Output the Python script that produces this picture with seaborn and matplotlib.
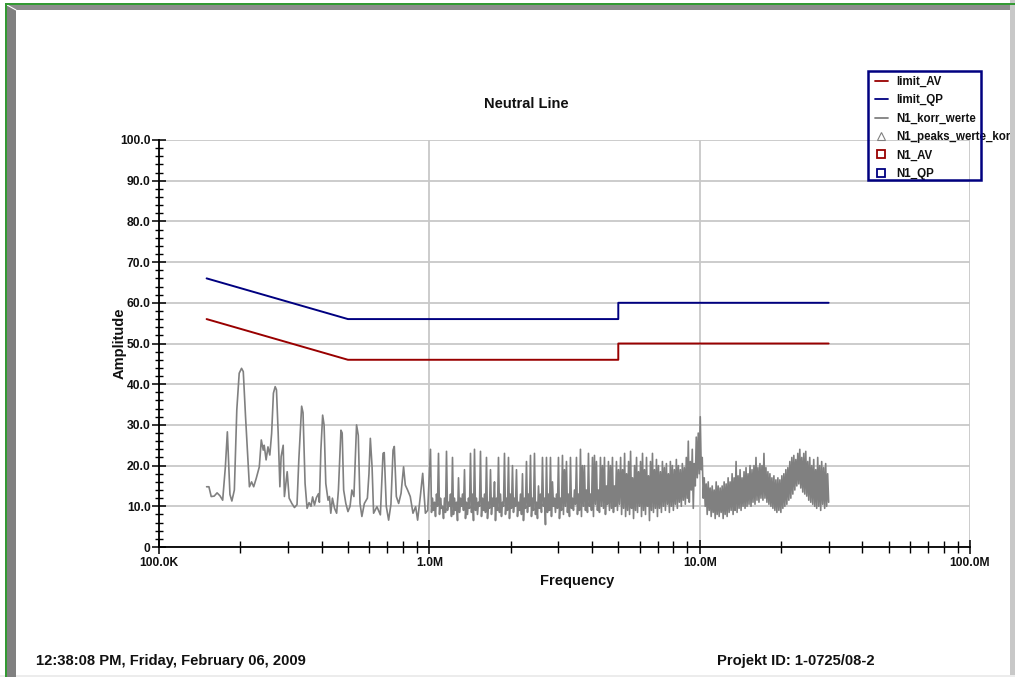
import numpy as np
import pandas as pd
import matplotlib
matplotlib.use("Agg")
import matplotlib.pyplot as plt
import seaborn as sns
from matplotlib.lines import Line2D
from matplotlib.patches import Rectangle, Polygon
from matplotlib.ticker import FixedLocator, FixedFormatter, LogLocator, MultipleLocator, NullFormatter

# ---------------- data ----------------
# limit lines (MHz, dBuV)
limit_freq_mhz = [0.15, 0.5, 5.0, 5.0, 30.0]
limit_qp = [66, 56, 56, 60, 60]
limit_av = [56, 46, 46, 50, 50]

# measured trace, low-frequency part (read point by point)
sparse_freq_mhz = [0.150, 0.153, 0.156, 0.160, 0.164, 0.168, 0.172, 0.176, 0.179, 0.183,
                   0.186, 0.190, 0.194, 0.198, 0.202, 0.205, 0.209, 0.216, 0.220, 0.224,
                   0.229, 0.235, 0.239, 0.243, 0.245, 0.249, 0.253, 0.257, 0.261, 0.265,
                   0.269, 0.272, 0.276, 0.280, 0.283, 0.288, 0.291, 0.298, 0.303, 0.310,
                   0.317, 0.324, 0.329, 0.337, 0.341, 0.347, 0.353, 0.359, 0.365, 0.370,
                   0.376, 0.382, 0.389, 0.392, 0.397, 0.403, 0.408, 0.414, 0.422, 0.427,
                   0.432, 0.438, 0.446, 0.454, 0.461, 0.471, 0.476, 0.482, 0.491, 0.500,
                   0.509, 0.517, 0.526, 0.538, 0.546, 0.554, 0.563, 0.575, 0.590, 0.598,
                   0.605, 0.614, 0.622, 0.640, 0.659, 0.674, 0.681, 0.693, 0.707, 0.721,
                   0.734, 0.742, 0.755, 0.770, 0.786, 0.803, 0.815, 0.831, 0.850, 0.870,
                   0.890, 0.905, 0.926, 0.945, 0.967, 0.986]
sparse_level = [14.8, 14.8, 12.4, 12.5, 13.3, 12.6, 11.5, 19.7, 28.3, 12.9,
                11.3, 14.0, 33.7, 42.7, 43.9, 43.1, 32.0, 14.8, 16.0, 14.8,
                16.9, 19.7, 26.3, 23.8, 25.0, 21.4, 24.6, 22.6, 27.9, 37.8,
                39.4, 38.6, 27.9, 14.8, 22.2, 25.0, 12.4, 18.5, 12.0, 10.7,
                9.7, 10.4, 21.4, 34.6, 33.0, 15.6, 9.5, 10.9, 10.0, 12.3,
                10.3, 12.1, 13.1, 11.0, 23.8, 32.4, 30.0, 15.6, 11.5, 12.4,
                8.3, 12.0, 9.5, 8.3, 14.0, 28.7, 28.0, 14.0, 10.7, 8.7,
                10.0, 14.0, 12.4, 30.0, 27.4, 10.7, 7.5, 10.7, 12.0, 18.0,
                26.7, 19.7, 8.3, 9.9, 7.9, 23.0, 23.2, 10.0, 6.6, 10.5,
                23.8, 24.7, 12.4, 10.7, 13.2, 19.7, 15.2, 14.0, 12.4, 8.3,
                9.9, 6.6, 12.4, 18.1, 8.3, 9.0]

# dense part 1.01 - 5.05 MHz: alternating peak / floor readings
dense1_start_mhz, dense1_stop_mhz = 1.01, 5.05
dense1_hi = [24, 12, 11, 13, 23, 12, 10, 12, 23.5, 11,
             13, 22, 12, 11, 17, 12, 13, 19, 11, 12,
             23, 13, 24, 12, 11, 23.5, 12, 13, 22, 11,
             19, 12, 16, 12, 22, 13, 11, 23, 12, 22,
             13, 20, 12, 19, 11, 13, 18, 12, 21, 13,
             22.5, 12, 23, 11, 15, 13, 22, 12, 22, 13,
             22, 16, 12, 13, 22, 12, 22.5, 19, 21, 13,
             22, 12, 14, 22, 13, 24, 20, 20, 14, 23,
             13, 22, 22.5, 21, 14, 22, 20, 22, 15, 21,
             20, 22, 15, 21, 19]
dense1_lo = [8.5, 9, 7.5, 10, 8, 9.5, 7, 8.5, 9, 10,
             7.5, 8, 9, 6.5, 8.5, 10, 9, 7, 8, 9.5,
             8.5, 6.5, 9, 8, 10, 7.5, 9, 8.5, 7, 9.5,
             8, 10, 6.5, 9, 8.5, 7.5, 10, 8, 9, 7,
             9.5, 8.5, 10, 7.5, 9, 8, 6.5, 9.5, 8.5, 10,
             7.5, 9, 8, 7, 9.5, 8.5, 10, 5.5, 8.5, 9,
             7.5, 10, 8.5, 9.5, 7, 9, 8, 10, 8.5, 7.5,
             9.5, 9, 10.5, 8, 9, 7.5, 10, 9, 8.5, 10,
             9, 7.5, 10.5, 9, 8.5, 10, 9.5, 8, 10.5, 9,
             9.5, 8.5, 10, 9, 10.5]

# dense part 5.1 - 30 MHz
dense2_start_mhz, dense2_stop_mhz = 5.1, 30.0
dense2_hi = [22, 19, 23, 18, 21, 23.5, 17, 20, 22, 18.5,
             21, 23, 19, 22, 17.5, 21, 23, 19, 21.5, 20,
             18.5, 21, 19.5, 20.5, 18, 21, 20, 19, 21.5, 20,
             19, 20.5, 19.5, 22, 26, 21, 24, 20.5, 27, 28,
             32, 22, 17, 15.5, 16, 14.5, 15, 14, 16, 15,
             14.5, 15, 16, 15.5, 17, 16, 18, 17, 21, 17.5,
             19, 17, 18.5, 19.5, 18, 20, 19, 20, 22, 19.5,
             20.5, 20, 23, 19.5, 18.5, 18, 17, 17.5, 16.5, 17,
             16.5, 17.5, 18, 19, 19.5, 21, 22, 22.5, 21.5, 23,
             24, 22, 23, 23.5, 21, 22, 20, 21.5, 19, 22,
             20, 21, 19.5, 20.5, 18]
dense2_lo = [8, 9.5, 7.5, 9, 8, 9.5, 7, 9, 8.5, 10,
             7.5, 9, 8, 10, 6.5, 9, 8.5, 9.5, 7.5, 9.5,
             8.5, 10, 9, 10.5, 8.5, 10, 9, 10.5, 9.5, 11,
             10, 11.5, 10.5, 12, 11, 14, 9.5, 15, 17, 18,
             19, 12, 10, 8, 9, 7.5, 8.5, 7, 8, 7.5,
             8.5, 7, 8, 7.5, 8.5, 9, 8, 9, 8.5, 9.5,
             9, 10, 9.5, 10, 10.5, 10, 11, 10.5, 11.5, 11,
             12, 11.5, 12, 11, 10.5, 10, 9.5, 9, 8.5, 9,
             8.5, 9.5, 10, 10.5, 11.5, 12, 13, 14, 15, 15.5,
             14.5, 13.5, 13, 12.5, 11.5, 11, 10.5, 10, 9.5, 10,
             9, 10.5, 9.5, 10, 11]

x_tick_vals = [1e5, 1e6, 1e7, 1e8]
x_tick_labels = ["100.0K", "1.0M", "10.0M", "100.0M"]
y_tick_vals = [0, 10, 20, 30, 40, 50, 60, 70, 80, 90, 100]
y_tick_labels = ["0", "10.0", "20.0", "30.0", "40.0", "50.0", "60.0", "70.0", "80.0", "90.0", "100.0"]
legend_labels = ["limit_AV", "limit_QP", "N1_korr_werte", "N1_peaks_werte_korr", "N1_AV", "N1_QP"]

# ---------------- assemble frames ----------------
d1_vals = np.column_stack([dense1_hi, dense1_lo]).ravel()
d1_freq = np.geomspace(dense1_start_mhz, dense1_stop_mhz, len(d1_vals))
d2_vals = np.column_stack([dense2_hi, dense2_lo]).ravel()
d2_freq = np.geomspace(dense2_start_mhz, dense2_stop_mhz, len(d2_vals))
trace = pd.DataFrame({
    "freq": np.concatenate([np.array(sparse_freq_mhz), d1_freq, d2_freq]) * 1e6,
    "level": np.concatenate([np.array(sparse_level, float), d1_vals, d2_vals]),
})
limits = pd.DataFrame({"freq": np.array(limit_freq_mhz) * 1e6, "qp": limit_qp, "av": limit_av})

# ---------------- figure ----------------
sns.set_theme(style="white")
plt.rcParams["font.family"] = ["Liberation Sans", "DejaVu Sans"]
plt.rcParams["font.weight"] = "bold"

W, H = 1015, 677
fig = plt.figure(figsize=(W / 100, H / 100), dpi=100)
fig.patch.set_facecolor("white")
ax = fig.add_axes([159 / W, 1 - 547 / H, (970 - 159) / W, (547 - 140) / H])
ax.set_facecolor("white")

RED = "#990000"
NAVY = "#000080"
GRAY = "#808080"

sns.lineplot(data=trace, x="freq", y="level", ax=ax, color=GRAY, lw=1.2,
             estimator=None, sort=False, zorder=3)
sns.lineplot(data=limits, x="freq", y="qp", ax=ax, color=NAVY, lw=1.4,
             estimator=None, sort=False, zorder=4)
sns.lineplot(data=limits, x="freq", y="av", ax=ax, color=RED, lw=1.4,
             estimator=None, sort=False, zorder=4)

ax.set_xscale("log")
ax.set_xlim(1e5, 1e8)
ax.set_ylim(0, 100)

ax.xaxis.set_major_locator(FixedLocator(x_tick_vals))
ax.xaxis.set_major_formatter(FixedFormatter(x_tick_labels))
ax.xaxis.set_minor_locator(LogLocator(base=10, subs=np.arange(2, 10)))
ax.xaxis.set_minor_formatter(NullFormatter())
ax.yaxis.set_major_locator(FixedLocator(y_tick_vals))
ax.yaxis.set_major_formatter(FixedFormatter(y_tick_labels))
ax.yaxis.set_minor_locator(MultipleLocator(2))

ax.tick_params(which="major", direction="inout", length=10, width=1.1, color="black",
               labelsize=8.7, pad=1, labelcolor="#111111")
ax.tick_params(axis="y", which="minor", direction="inout", length=6, width=1.0, color="black")
ax.tick_params(axis="x", which="minor", direction="inout", length=8, width=1.0, color="black")
ax.tick_params(axis="x", which="major", pad=2)
ax.tick_params(left=True, bottom=True, which="both")
for lbl in ax.get_xticklabels() + ax.get_yticklabels():
    lbl.set_fontweight("bold")

ax.grid(True, which="major", color="#c8c8c8", lw=1.3)
ax.grid(False, which="minor")
for s in ["top", "right"]:
    ax.spines[s].set_visible(False)
for s in ["left", "bottom"]:
    ax.spines[s].set_color("black")
    ax.spines[s].set_linewidth(1.3)
    ax.spines[s].set_zorder(5)

ax.set_xlabel("Frequency", fontsize=10.5, fontweight="bold", color="#111111")
ax.set_ylabel("Amplitude", fontsize=10.5, fontweight="bold", color="#111111")
ax.xaxis.set_label_coords((577 - 159) / 811, (547 - 574) / 407)
ax.yaxis.set_label_coords((127 - 159) / 811, 0.5)

fig.text(526 / W, 1 - 104 / H, "Neutral Line", ha="center", va="center",
         fontsize=10.5, fontweight="bold", color="#111111")

# legend
handles = [
    Line2D([], [], color=RED, lw=1.3),
    Line2D([], [], color=NAVY, lw=1.3),
    Line2D([], [], color=GRAY, lw=1.3),
    Line2D([], [], ls="none", marker="^", mfc="none", mec=GRAY, ms=6, mew=0.8),
    Line2D([], [], ls="none", marker="s", mfc="none", mec=RED, ms=5.5, mew=1.3),
    Line2D([], [], ls="none", marker="s", mfc="none", mec=NAVY, ms=5.5, mew=1.3),
]
leg = fig.legend(handles, legend_labels, loc="upper left",
                 bbox_to_anchor=(875 / W, 1 - 76 / H), bbox_transform=fig.transFigure,
                 frameon=False, prop={"size": 8.3, "weight": "bold"},
                 handlelength=1.1, handletextpad=0.75, labelspacing=0.55,
                 borderpad=0, borderaxespad=0)
for t in leg.get_texts():
    t.set_color("#111111")
fig.add_artist(Rectangle((868 / W, 1 - 180 / H), (981 - 868) / W, (180 - 71) / H,
                         fill=False, ec=NAVY, lw=1.8, transform=fig.transFigure, zorder=10))

# footer
fig.text(36 / W, 1 - 661 / H, "12:38:08 PM, Friday, February 06, 2009",
         fontsize=10.6, fontweight="bold", va="center", ha="left", color="#111111")
fig.text(717 / W, 1 - 661 / H, "Projekt ID: 1-0725/08-2",
         fontsize=10.6, fontweight="bold", va="center", ha="left", color="#111111")


# page frame decorations
def px_poly(pts, **kw):
    p = Polygon([(x / W, 1 - y / H) for x, y in pts], closed=True,
                transform=fig.transFigure, **kw)
    fig.add_artist(p)


px_poly([(1010, 0), (1015, 0), (1015, 677), (1010, 677)], fc="#c8c8c8", ec="none", zorder=20)
px_poly([(0, 675), (1015, 675), (1015, 677), (0, 677)], fc="#ececec", ec="none", zorder=20)
px_poly([(7, 5), (1010, 5), (1010, 10), (16, 10)], fc="#8c8c8c", ec="none", zorder=21)
px_poly([(7, 5), (16, 10), (16, 677), (7, 677)], fc="#808080", ec="none", zorder=21)
fig.add_artist(Line2D([7 / W, 16 / W], [1 - 5 / H, 1 - 10 / H], color="white", lw=0.8,
                      transform=fig.transFigure, zorder=22))
px_poly([(5, 3), (1015, 3), (1015, 5), (5, 5)], fc="#339933", ec="none", zorder=23)
px_poly([(5, 3), (7, 3), (7, 677), (5, 677)], fc="#339933", ec="none", zorder=23)

fig.savefig("out.png", dpi=100, facecolor="white")
